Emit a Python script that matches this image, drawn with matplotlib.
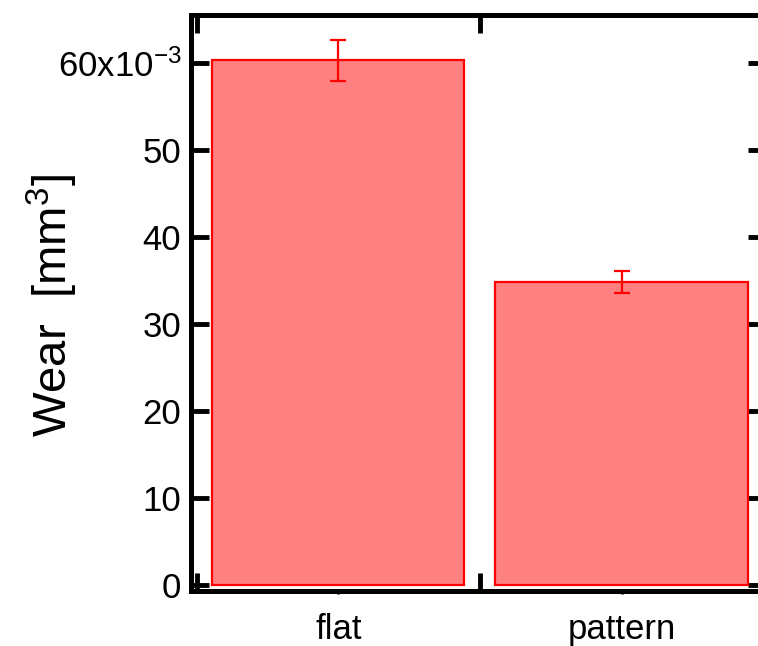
import matplotlib
matplotlib.use("Agg")
import matplotlib.pyplot as plt
from matplotlib.ticker import FixedLocator

plt.rcParams['font.family'] = ['Liberation Sans', 'DejaVu Sans']
plt.rcParams['mathtext.fontset'] = 'custom'
plt.rcParams['mathtext.rm'] = 'Liberation Sans'
plt.rcParams['mathtext.it'] = 'Liberation Sans:italic'

categories = ["flat", "pattern"]
wear = [60.3e-3, 34.8e-3]
wear_err = [2.35e-3, 1.25e-3]
ytick_vals = [0, 10e-3, 20e-3, 30e-3, 40e-3, 50e-3, 60e-3]
ytick_labels = ["0", "10", "20", "30", "40", "50", "60x10$^{-3}$"]

fig = plt.figure(figsize=(7.58, 6.46), dpi=100)
ax = fig.add_axes([191/758, 1 - 590.5/646, (766 - 191)/758, (590.5 - 15)/646])

x = list(range(len(categories)))
ax.bar(x, wear, width=0.89, color="#FF8080", edgecolor="#FF0000", linewidth=1.6, zorder=2)
ax.errorbar(x, wear, yerr=wear_err, fmt="none", ecolor="#FF0000", elinewidth=1.6,
            capsize=6, capthick=1.6, zorder=3)

ax.set_xlim(-0.52, 1.51)
ax.set_ylim(-0.63e-3, 65.52e-3)

ax.set_yticks(ytick_vals)
ax.set_yticklabels(ytick_labels)
ax.tick_params(axis="y", which="major", direction="in", length=13, width=3.5,
               right=True, labelright=False, pad=7, labelsize=25)

ax.set_xticks(x)
ax.set_xticklabels(categories)
ax.tick_params(axis="x", which="major", direction="out", length=2, width=2,
               top=False, pad=14, labelsize=25)
ax.xaxis.set_minor_locator(FixedLocator([-0.5, 0.5, 1.5]))
ax.tick_params(axis="x", which="minor", direction="in", length=13, width=3.5,
               top=True, bottom=True)

for s in ax.spines.values():
    s.set_linewidth(3.6)

fig.text(52/758, 1 - 306/646, "Wear  [mm$^{3}$]", fontsize=34, rotation=90,
         ha="center", va="center")

fig.savefig("out.png", dpi=100)
